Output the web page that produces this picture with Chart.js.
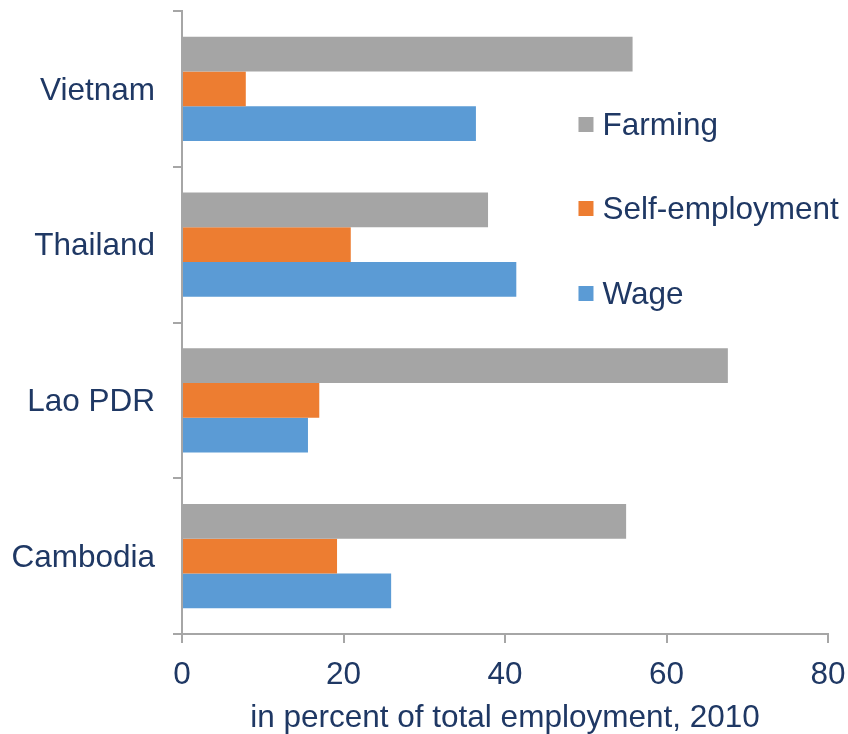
<!DOCTYPE html>
<html>
<head>
<meta charset="utf-8">
<script src="https://cdn.jsdelivr.net/npm/chart.js@4/dist/chart.umd.min.js"></script>
<style>
  html, body { margin: 0; padding: 0; background: #ffffff; }
  #wrap { width: 848px; height: 734px; }
</style>
</head>
<body>
<div id="wrap"><canvas id="c" width="848" height="734"></canvas></div>
<script>
const categories = ["Vietnam", "Thailand", "Lao PDR", "Cambodia"];
const seriesNames = ["Farming", "Self-employment", "Wage"];
const farming = [55.8, 37.9, 67.6, 55.0];
const selfEmployment = [7.9, 20.9, 17.0, 19.2];
const wage = [36.4, 41.4, 15.6, 25.9];
const xTicks = [0, 20, 40, 60, 80];
const axisTitle = "in percent of total employment, 2010";

const colors = ["#A5A5A5", "#ED7D31", "#5B9BD5"];
const textColor = "#1F3864";
const axisColor = "#A6A6A6";
const FONT = "'Liberation Sans', Arial, sans-serif";
const FSIZE = 31.5;

const legendPlugin = {
  id: "sideLegend",
  afterDraw(chart) {
    const ctx = chart.ctx;
    const xs = chart.scales.x;
    const boxX = xs.getPixelForValue(49.1);
    const rows = [125, 209, 294];
    ctx.save();
    ctx.font = FSIZE + "px " + FONT;
    ctx.textBaseline = "middle";
    ctx.textAlign = "left";
    chart.data.datasets.forEach((ds, i) => {
      const y = rows[i];
      ctx.fillStyle = ds.backgroundColor;
      ctx.fillRect(boxX, y - 8, 15, 15);
      ctx.fillStyle = textColor;
      ctx.fillText(ds.label, boxX + 24, y + 1);
    });
    ctx.restore();
  }
};

new Chart(document.getElementById("c"), {
  type: "bar",
  data: {
    labels: categories,
    datasets: [
      { label: seriesNames[0], data: farming, backgroundColor: colors[0] },
      { label: seriesNames[1], data: selfEmployment, backgroundColor: colors[1] },
      { label: seriesNames[2], data: wage, backgroundColor: colors[2] }
    ]
  },
  options: {
    indexAxis: "y",
    responsive: false,
    animation: false,
    layout: { padding: { top: 11, right: 20, left: 0, bottom: 0 } },
    datasets: { bar: { barPercentage: 1.0, categoryPercentage: 0.67, borderWidth: 0 } },
    plugins: { legend: { display: false }, tooltip: { enabled: false } },
    scales: {
      x: {
        min: 0, max: 80,
        afterFit(scale) { scale.height = 100; scale.paddingLeft = 0; scale.paddingRight = 0; },
        afterBuildTicks(scale) { scale.ticks = xTicks.map(v => ({ value: v })); },
        grid: { drawOnChartArea: false, drawTicks: true, tickLength: 9, color: axisColor, lineWidth: 2 },
        border: { display: true, color: axisColor, width: 2 },
        ticks: { color: textColor, font: { family: FONT, size: FSIZE }, padding: 13, maxRotation: 0 },
        title: { display: true, text: axisTitle, color: textColor, font: { family: FONT, size: FSIZE }, padding: { top: 0, bottom: -3 } }
      },
      y: {
        afterFit(scale) { scale.width = 182; scale.paddingTop = 0; scale.paddingBottom = 0; },
        grid: { drawOnChartArea: false, drawTicks: true, tickLength: 9, color: axisColor, lineWidth: 2, offset: true },
        border: { display: true, color: axisColor, width: 2 },
        ticks: { color: textColor, font: { family: FONT, size: FSIZE }, padding: 18, labelOffset: 2 }
      }
    }
  },
  plugins: [legendPlugin]
});
</script>
</body>
</html>
